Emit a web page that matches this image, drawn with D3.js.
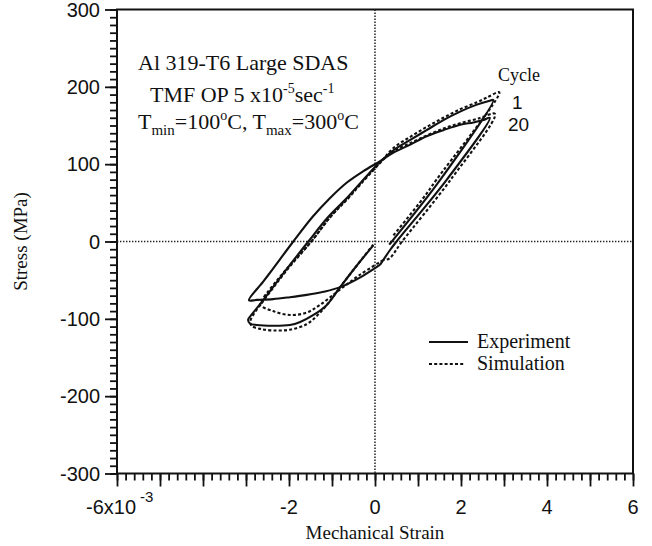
<!DOCTYPE html>
<html>
<head>
<meta charset="utf-8">
<script src="https://cdn.jsdelivr.net/npm/d3@7"></script>
<style>
  body { margin: 0; background: #fff; }
  .serif { font-family: "Liberation Serif", "Times New Roman", serif; fill: #111; }
  .sans { font-family: "Liberation Sans", Arial, sans-serif; fill: #111; }
</style>
</head>
<body>
<svg id="chart" width="652" height="546"></svg>
<script>
// Mechanical strain in units of 1e-3, stress in MPa
const strainDomain = [-6, 6];
const stressDomain = [-300, 300];
const strainLabelValues = [-2, 0, 2, 4, 6];
const stressLabelValues = [-300, -200, -100, 0, 100, 200, 300];

// Cycle 1, experiment: initial compression, then full loop to the tensile peak and back
const cycle1Experiment = [
  [-0.04, -5], [-0.45, -33], [-0.81, -59], [-1.12, -82], [-1.43, -95], [-1.74, -104],
  [-1.98, -108], [-2.37, -109], [-2.75, -108], [-2.91, -106], [-2.95, -101], [-2.86, -94],
  [-2.63, -78], [-2.1, -39], [-1.55, 0], [-1.1, 31], [-0.66, 56], [-0.27, 80], [0.12, 103],
  [0.43, 118], [0.81, 131], [1.2, 144], [1.59, 157], [1.98, 168], [2.37, 177], [2.67, 182],
  [2.75, 183], [1.52, 80], [0.39, 0], [0.33, -4]
];

// Cycle 1, simulation
const cycle1Simulation = [
  [-0.04, -4], [-0.45, -33], [-0.81, -59], [-1.12, -82], [-1.35, -96], [-1.59, -107],
  [-1.98, -114], [-2.37, -115], [-2.67, -113], [-2.87, -109], [-2.9, -103], [-2.75, -88],
  [-2.6, -77], [-2.05, -37], [-1.48, 0], [-1.05, 31], [-0.62, 56], [-0.24, 80], [0.14, 103],
  [0.43, 121], [0.81, 135], [1.2, 148], [1.59, 160], [1.98, 171], [2.37, 180], [2.6, 186],
  [2.89, 193], [1.43, 80], [1.12, 56], [0.43, 8]
];

// Cycle 20, experiment (stabilised loop)
const cycle20Experiment = [
  [0.12, -30], [-0.3, -45], [-0.81, -59], [-1.2, -65], [-1.59, -69], [-1.98, -72],
  [-2.37, -74.5], [-2.75, -75.5], [-2.93, -76], [-2.6, -52], [-2.37, -35], [-1.9, 0],
  [-1.45, 32], [-1.05, 56], [-0.66, 76], [-0.27, 91], [0.12, 104], [0.43, 115], [0.81, 125],
  [1.2, 136], [1.59, 144], [1.98, 151], [2.29, 154], [2.52, 157], [2.67, 160], [1.67, 80],
  [0.5, 0], [0.35, -11], [0.12, -30]
];

// Cycle 20, simulation
const cycle20Simulation = [
  [0.19, -24], [-0.35, -43], [-0.81, -62], [-1.28, -82], [-1.59, -92], [-1.98, -95],
  [-2.37, -90], [-2.67, -82], [-2.63, -76], [-2.08, -37], [-1.48, 0], [-1.05, 31],
  [-0.62, 57], [-0.24, 81], [0.14, 103], [0.43, 117], [0.81, 127], [1.2, 137], [1.59, 146],
  [1.98, 153], [2.4, 159], [2.79, 165], [1.76, 80], [0.63, 0], [0.33, -22], [0.19, -24]
];

const legendEntries = [
  { label: "Experiment", dash: null },
  { label: "Simulation", dash: "3,2.2" }
];

const svg = d3.select("#chart");
const plotLeft = 117, plotRight = 633, plotTop = 9.5, plotBottom = 473.5;

const x = d3.scaleLinear().domain(strainDomain).range([plotLeft, plotRight]);
const y = d3.scaleLinear().domain(stressDomain).range([plotBottom, plotTop]);

// Axes: long major ticks and short minor ticks, all pointing outward
const xMinor = d3.range(-30, 31).map(i => i / 5);
const xMajor = d3.range(-6, 7);
const yMinor = d3.range(-30, 31).map(i => i * 10);
const yMajor = d3.range(-3, 4).map(i => i * 100);

function styleAxis(g) {
  g.selectAll("path").remove();
  g.selectAll("line").attr("stroke", "#111").attr("stroke-width", 1.8);
}

svg.append("g").attr("transform", `translate(0,${plotBottom})`)
  .call(d3.axisBottom(x).tickValues(xMinor).tickSize(7).tickFormat(""))
  .call(styleAxis);
svg.append("g").attr("transform", `translate(0,${plotBottom})`)
  .call(d3.axisBottom(x).tickValues(xMajor).tickSize(13).tickFormat(""))
  .call(styleAxis);
svg.append("g").attr("transform", `translate(${plotLeft},0)`)
  .call(d3.axisLeft(y).tickValues(yMinor).tickSize(7).tickFormat(""))
  .call(styleAxis);
svg.append("g").attr("transform", `translate(${plotLeft},0)`)
  .call(d3.axisLeft(y).tickValues(yMajor).tickSize(12).tickFormat(""))
  .call(styleAxis);

// Frame
svg.append("rect")
  .attr("x", plotLeft).attr("y", plotTop)
  .attr("width", plotRight - plotLeft).attr("height", plotBottom - plotTop)
  .attr("fill", "none").attr("stroke", "#111").attr("stroke-width", 2);

// Zero reference lines
svg.append("line")
  .attr("x1", plotLeft).attr("x2", plotRight).attr("y1", y(0)).attr("y2", y(0))
  .attr("stroke", "#222").attr("stroke-width", 1.5).attr("stroke-dasharray", "1.4,1.6");
svg.append("line")
  .attr("x1", x(0)).attr("x2", x(0)).attr("y1", plotTop).attr("y2", plotBottom)
  .attr("stroke", "#222").attr("stroke-width", 1.5).attr("stroke-dasharray", "1.4,1.6");

// Tick labels
svg.append("g").selectAll("text").data(stressLabelValues).join("text")
  .attr("class", "sans")
  .attr("x", plotLeft - 17).attr("y", d => y(d) + 7)
  .attr("text-anchor", "end").attr("font-size", 20)
  .text(d => d);

svg.append("g").selectAll("text").data(strainLabelValues).join("text")
  .attr("class", "sans")
  .attr("x", d => x(d)).attr("y", plotBottom + 40)
  .attr("text-anchor", "middle").attr("font-size", 20)
  .text(d => d);
// Leftmost strain label carries the 10^-3 multiplier
const firstLabel = svg.append("text").attr("class", "sans")
  .attr("x", x(strainDomain[0]) + 19).attr("y", plotBottom + 40)
  .attr("text-anchor", "end").attr("font-size", 20)
  .text(strainDomain[0] + "x10");
svg.append("text").attr("class", "sans")
  .attr("x", x(strainDomain[0]) + 23).attr("y", plotBottom + 28)
  .attr("font-size", 15)
  .text("-3");

// Axis titles
svg.append("text").attr("class", "serif")
  .attr("transform", `translate(27,${y(0)}) rotate(-90)`)
  .attr("text-anchor", "middle").attr("font-size", 19)
  .text("Stress (MPa)");
svg.append("text").attr("class", "serif")
  .attr("x", x(0)).attr("y", 539)
  .attr("text-anchor", "middle").attr("font-size", 19)
  .text("Mechanical Strain");

// Loops
const line = d3.line()
  .x(d => x(d[0])).y(d => y(d[1]))
  .curve(d3.curveCatmullRom.alpha(0.5));

const series = [
  { data: cycle1Simulation, dash: "3,2.2" },
  { data: cycle20Simulation, dash: "3,2.2" },
  { data: cycle1Experiment, dash: null },
  { data: cycle20Experiment, dash: null }
];
svg.append("g").selectAll("path").data(series).join("path")
  .attr("d", d => line(d.data))
  .attr("fill", "none").attr("stroke", "#111")
  .attr("stroke-width", 2.1)
  .attr("stroke-linejoin", "round")
  .attr("stroke-dasharray", d => d.dash);

// Material and test annotation
const note = svg.append("g").attr("class", "serif").attr("font-size", 22);
note.append("text").attr("x", 138).attr("y", 70).text("Al 319-T6 Large SDAS");
const l2 = note.append("text").attr("x", 150).attr("y", 102);
l2.append("tspan").text("TMF OP 5 x10");
l2.append("tspan").attr("dy", -9).attr("font-size", 14).text("-5");
l2.append("tspan").attr("dy", 9).text("sec");
l2.append("tspan").attr("dy", -9).attr("font-size", 14).text("-1");
const l3 = note.append("text").attr("x", 138).attr("y", 129);
l3.append("tspan").text("T");
l3.append("tspan").attr("dy", 6).attr("font-size", 15).text("min");
l3.append("tspan").attr("dy", -6).text("=100");
l3.append("tspan").attr("dy", -9).attr("font-size", 14).text("o");
l3.append("tspan").attr("dy", 9).text("C, T");
l3.append("tspan").attr("dy", 6).attr("font-size", 15).text("max");
l3.append("tspan").attr("dy", -6).text("=300");
l3.append("tspan").attr("dy", -9).attr("font-size", 14).text("o");
l3.append("tspan").attr("dy", 9).text("C");

// Cycle labels at the loop tips
svg.append("text").attr("class", "serif").attr("font-size", 18)
  .attr("x", 498).attr("y", 81).text("Cycle");
svg.append("text").attr("class", "sans").attr("font-size", 19)
  .attr("x", 512).attr("y", 109).text("1");
svg.append("text").attr("class", "sans").attr("font-size", 19)
  .attr("x", 508).attr("y", 131).text("20");

// Legend
const leg = svg.append("g").selectAll("g").data(legendEntries).join("g")
  .attr("transform", (d, i) => `translate(429,${342 + i * 22})`);
leg.append("line")
  .attr("x1", 0).attr("x2", (d, i) => i === 0 ? 39 : 35)
  .attr("stroke", "#111").attr("stroke-width", 2)
  .attr("stroke-dasharray", d => d.dash);
leg.append("text").attr("class", "serif").attr("font-size", 20)
  .attr("x", 48).attr("y", 6).text(d => d.label);
</script>
</body>
</html>
